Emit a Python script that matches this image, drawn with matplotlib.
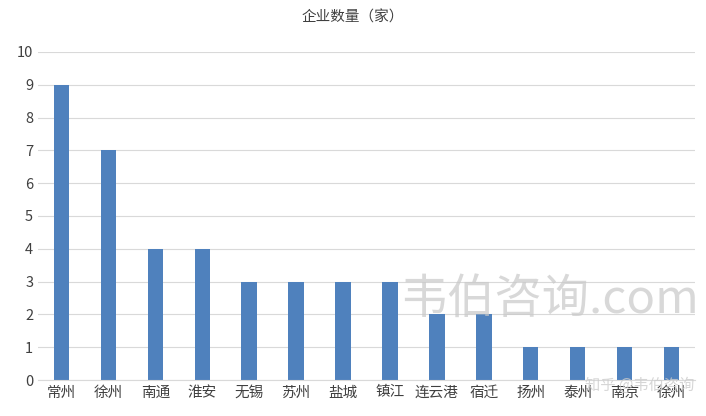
import matplotlib
matplotlib.use("Agg")
import matplotlib.pyplot as plt

plt.rcParams['font.family'] = ['Noto Sans CJK SC', 'DejaVu Sans']

categories = ["常州", "徐州", "南通", "淮安", "无锡", "苏州", "盐城", "镇江", "连云港", "宿迁", "扬州", "泰州", "南京", "徐州"]
values = [9, 7, 4, 4, 3, 3, 3, 3, 2, 2, 1, 1, 1, 1]
title = "企业数量（家）"

fig = plt.figure(figsize=(7.06, 4.16), dpi=100)
ax = fig.add_axes([38/706, 36/416, 657/706, 328/416])
x = range(len(categories))
ax.bar(x, values, width=0.33, color="#4f81bd", zorder=2)
ax.set_xlim(-0.5, len(categories) - 0.5)
ax.set_ylim(0, 10)
ax.set_yticks(range(0, 11))
ax.set_xticks(list(x))
ax.set_xticklabels(categories, fontsize=10.5, color="#404040")
ax.tick_params(axis='y', labelsize=10.5, colors="#404040", length=0)
ax.tick_params(axis='x', length=0, pad=4)
ax.grid(axis='y', color="#d9d9d9", linewidth=0.8, zorder=0)
for s in ["top", "right", "left"]:
    ax.spines[s].set_visible(False)
ax.spines["bottom"].set_color("#d9d9d9")
fig.text(0.5, 1 - 18/416, title, ha="center", va="center", fontsize=10.5, color="#404040")
fig.text(400/706, 1 - 300/416, "韦伯咨询.com", fontsize=34, color="#c8c8c8", alpha=0.7, va="center")
fig.text(585/706, 1 - 385/416, "知乎 @韦伯咨询", fontsize=11, color="#cccccc", alpha=0.8, va="center")
fig.savefig("out.png", dpi=100)
